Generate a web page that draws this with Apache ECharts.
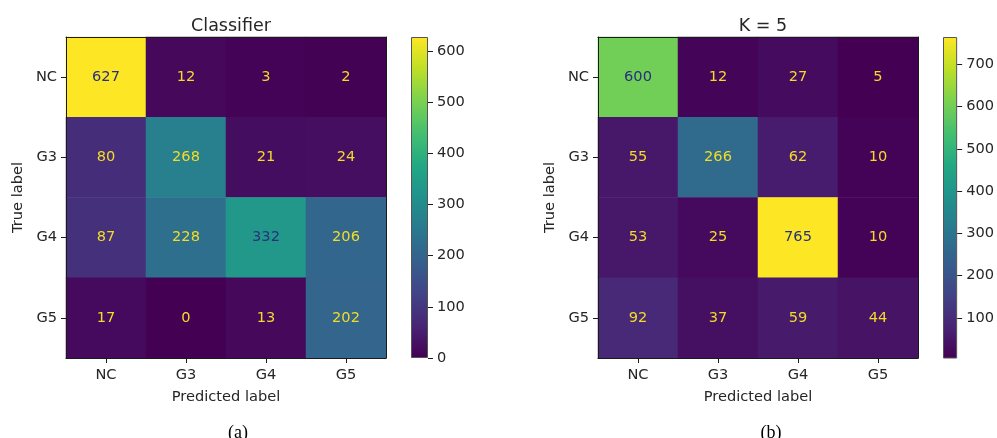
<!DOCTYPE html>
<html>
<head>
<meta charset="utf-8">
<script src="https://cdn.jsdelivr.net/npm/echarts@6/dist/echarts.min.js"></script>
<style>
html,body{margin:0;padding:0;background:#fff;}
#chart{width:997px;height:438px;}
</style>
</head>
<body>
<div id="chart"></div>
<script>
// ---- data ----
const categories = ['NC', 'G3', 'G4', 'G5'];
const classifierTitle = 'Classifier';
const k5Title = 'K = 5';
// rows = true label, columns = predicted label
const classifierMatrix = [
  [627, 12, 3, 2],
  [80, 268, 21, 24],
  [87, 228, 332, 206],
  [17, 0, 13, 202]
];
const k5Matrix = [
  [600, 12, 27, 5],
  [55, 266, 62, 10],
  [53, 25, 765, 10],
  [92, 37, 59, 44]
];
const classifierTicks = [0, 100, 200, 300, 400, 500, 600];
const k5Ticks = [100, 200, 300, 400, 500, 600, 700];

// ---- styling ----
const FONT = 'DejaVu Sans';
const FS = 14.6;
const TXT = '#262626';
const viridis = ['#440154', '#482475', '#414487', '#355f8d', '#2a788e', '#21918c',
                 '#22a884', '#44bf70', '#7ad151', '#bddf26', '#fde725'];
const LIGHT_TXT = '#f2dc26';
const DARK_TXT = '#27307e';

function flat(m) { return [].concat(...m); }
function buildData(m) {
  const vals = flat(m);
  const mn = Math.min(...vals), mx = Math.max(...vals);
  const thr = (mn + mx) / 2;
  const out = [];
  m.forEach((row, r) => row.forEach((v, c) => {
    out.push({ value: [c, r, v], label: { color: v > thr ? DARK_TXT : LIGHT_TXT } });
  }));
  return out;
}
function gradient() {
  const stops = viridis.map((c, i) => ({ offset: 1 - i / (viridis.length - 1), color: c }));
  return new echarts.graphic.LinearGradient(0, 0, 0, 1, stops.reverse());
}

const grids = [
  { left: 66, top: 37, width: 320, height: 321 },
  { left: 411, top: 37, width: 17, height: 321 },
  { left: 598, top: 37, width: 320, height: 321 },
  { left: 943, top: 37, width: 17, height: 321 }
];

function catX(gi, main) {
  return {
    type: 'category', gridIndex: gi, data: categories, position: main ? 'bottom' : 'top', z: 10,
    axisLine: { show: true, lineStyle: { color: '#1a1a1a', width: 1 } },
    axisTick: { show: main, alignWithLabel: true, length: 5, lineStyle: { color: '#1a1a1a' } },
    axisLabel: { show: main, margin: 10, fontFamily: FONT, fontSize: FS, color: TXT },
    name: main ? 'Predicted label' : '', nameLocation: 'middle', nameGap: 32,
    nameTextStyle: { fontFamily: FONT, fontSize: FS, color: TXT },
    splitLine: { show: false }, splitArea: { show: false }
  };
}
function catY(gi, main) {
  return {
    type: 'category', gridIndex: gi, data: categories, inverse: true, position: main ? 'left' : 'right', z: 10,
    axisLine: { show: true, lineStyle: { color: '#1a1a1a', width: 1 } },
    axisTick: { show: main, alignWithLabel: true, length: 5, lineStyle: { color: '#1a1a1a' } },
    axisLabel: { show: main, margin: 9, fontFamily: FONT, fontSize: FS, color: TXT },
    name: main ? 'True label' : '', nameLocation: 'middle', nameGap: 40, nameRotate: 90,
    nameTextStyle: { fontFamily: FONT, fontSize: FS, color: TXT },
    splitLine: { show: false }, splitArea: { show: false }
  };
}
function cbX(gi) {
  return { type: 'category', gridIndex: gi, data: [''], show: false };
}
function cbY(gi, m, ticks) {
  const vals = flat(m);
  return {
    type: 'value', gridIndex: gi, position: 'right', min: Math.min(...vals), max: Math.max(...vals),
    axisLine: { show: false },
    axisTick: { show: true, length: 5, customValues: ticks, lineStyle: { color: '#1a1a1a' } },
    axisLabel: { show: true, margin: 9, customValues: ticks, fontFamily: FONT, fontSize: FS, color: TXT },
    splitLine: { show: false }
  };
}
function heat(xi, yi, m) {
  return {
    type: 'heatmap', xAxisIndex: xi, yAxisIndex: yi, data: buildData(m),
    label: { show: true, fontFamily: FONT, fontSize: FS },
    emphasis: { disabled: true }, itemStyle: { borderWidth: 0 }
  };
}
function cbar(xi, yi, m) {
  const vals = flat(m);
  return {
    type: 'bar', xAxisIndex: xi, yAxisIndex: yi, data: [Math.max(...vals)],
    barWidth: '100%', silent: true, clip: true,
    itemStyle: { color: gradient(), borderColor: '#555', borderWidth: 1 }
  };
}

const chart = echarts.init(document.getElementById('chart'), null, { renderer: 'canvas' });
const cv = flat(classifierMatrix), kv = flat(k5Matrix);
chart.setOption({
  backgroundColor: '#fff',
  animation: false,
  textStyle: { fontFamily: FONT },
  title: [
    { text: classifierTitle, left: 226, top: 12, textAlign: 'center',
      textStyle: { fontFamily: FONT, fontSize: 17.5, fontWeight: 'normal', color: TXT } },
    { text: k5Title, left: 758, top: 12, textAlign: 'center',
      textStyle: { fontFamily: FONT, fontSize: 17.5, fontWeight: 'normal', color: TXT } },
    { text: '(a)', left: 233, top: 419, textAlign: 'center',
      textStyle: { fontFamily: 'Liberation Serif', fontSize: 18, fontWeight: 'normal', color: '#000' } },
    { text: '(b)', left: 766, top: 419, textAlign: 'center',
      textStyle: { fontFamily: 'Liberation Serif', fontSize: 18, fontWeight: 'normal', color: '#000' } }
  ],
  grid: grids,
  xAxis: [catX(0, true), catX(0, false), cbX(1), catX(2, true), catX(2, false), cbX(3)],
  yAxis: [catY(0, true), catY(0, false), cbY(1, classifierMatrix, classifierTicks),
          catY(2, true), catY(2, false), cbY(3, k5Matrix, k5Ticks)],
  visualMap: [
    { type: 'continuous', show: false, seriesIndex: 0, dimension: 2,
      min: Math.min(...cv), max: Math.max(...cv), inRange: { color: viridis } },
    { type: 'continuous', show: false, seriesIndex: 1, dimension: 2,
      min: Math.min(...kv), max: Math.max(...kv), inRange: { color: viridis } }
  ],
  series: [
    heat(0, 0, classifierMatrix),
    heat(3, 3, k5Matrix),
    cbar(2, 2, classifierMatrix),
    cbar(5, 5, k5Matrix)
  ]
});
</script>
</body>
</html>
